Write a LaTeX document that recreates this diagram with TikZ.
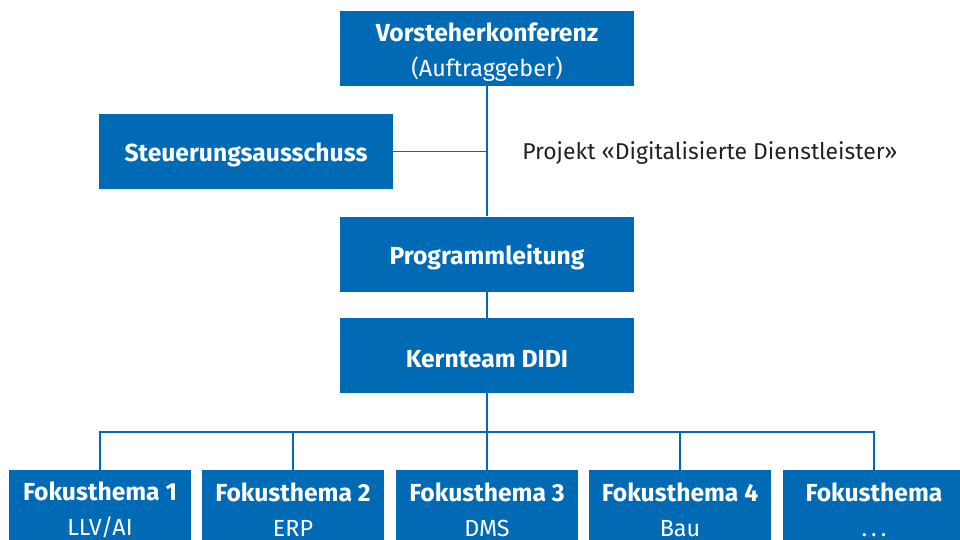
\documentclass[tikz,border=0pt]{standalone}
\usepackage{fontspec}
\setmainfont{Fira Sans}
\definecolor{boxblue}{HTML}{006AB4}
\definecolor{txtgray}{HTML}{222222}
\newcommand{\hd}[1]{{\fontsize{18.5}{26.25}\selectfont\bfseries #1}}
\newcommand{\dn}[2]{\raisebox{-#1}[\height][\depth]{#2}}
\begin{document}
\begin{tikzpicture}[x=0.75pt,y=-0.75pt,
  box/.style={fill=boxblue,text=white,minimum width=220.5pt,minimum height=56.25pt,inner sep=0pt,align=center,font=\fontsize{17.5}{26.25}\selectfont},
  fokusbox/.style={box,minimum width=136.5pt},
  conn/.style={draw=boxblue,line width=0.8pt}]
\clip (0,0) rectangle (960,539);
\fill[white] (0,0) rectangle (960,539);
\node[box] (vk) at (487,48.5) {\dn{3pt}{\hd{Vorsteherkonferenz}}\\\dn{3pt}{(Auftraggeber)}};
\node[box] (sa) at (246,151.5) {\dn{2.5pt}{\hd{Steuerungsausschuss}}};
\node[box] (pl) at (487,254) {\dn{2.5pt}{\hd{Programmleitung}}};
\node[box] (kt) at (487,355.5) {\dn{2.5pt}{\hd{Kernteam DIDI}}};
\node[fokusbox] (f1) at (100,507.5) {\dn{1.5pt}{\hd{Fokusthema 1}}\\\dn{1.5pt}{LLV/AI}};
\node[fokusbox] (f2) at (293,507.5) {\dn{1.5pt}{\hd{Fokusthema 2}}\\\dn{1.5pt}{ERP}};
\node[fokusbox] (f3) at (487,507.5) {\dn{1.5pt}{\hd{Fokusthema 3}}\\\dn{1.5pt}{DMS}};
\node[fokusbox] (f4) at (680,507.5) {\dn{1.5pt}{\hd{Fokusthema 4}}\\\dn{1.5pt}{Bau}};
\node[fokusbox] (f5) at (874,507.5) {\dn{1.5pt}{\hd{Fokusthema}}\\\dn{1.5pt}{.\kern3pt.\kern3pt.}};
\node[anchor=west,text=txtgray,inner sep=0pt,font=\fontsize{17.2}{20}\selectfont] (pj) at (522,153) {Projekt «Digitalisierte Dienstleister»};
\coordinate (j1) at (vk.south |- sa.east);
\coordinate (bus) at (487,432);
\draw[conn] (vk.south) -- (pl.north);
\draw[conn] (sa.east) -- (j1);
\draw[conn] (pl.south) -- (kt.north);
\draw[conn] (kt.south) -- (bus);
\draw[conn] (f1.north) -- (f1.north |- bus) -- (f5.north |- bus) -- (f5.north);
\foreach \n in {f2,f3,f4} \draw[conn] (\n.north |- bus) -- (\n.north);
\end{tikzpicture}
\end{document}
